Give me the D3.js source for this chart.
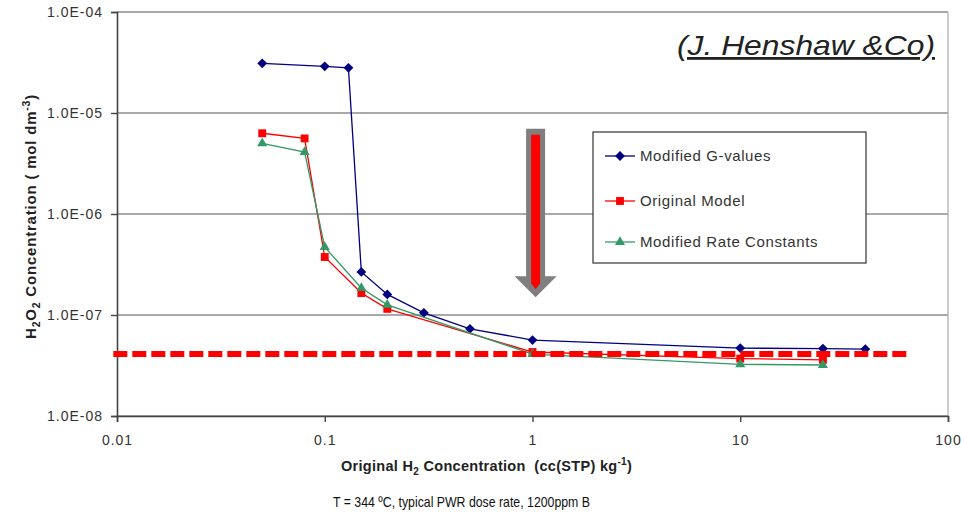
<!DOCTYPE html>
<html>
<head>
<meta charset="utf-8">
<script src="https://cdn.jsdelivr.net/npm/d3@7"></script>
<style>
  body { margin: 0; background: #fff; }
  text { font-family: Arial, "Liberation Sans", sans-serif; }
</style>
</head>
<body>
<div id="container"></div>
<script>
const width = 962, height = 524;

// x values (cc(STP)/kg) and H2O2 concentrations (mol/dm3)
const gValuesX = [0.05, 0.1, 0.13, 0.15, 0.2, 0.3, 0.5, 1, 10, 25, 40];
const gValuesY = [3.1e-5, 2.9e-5, 2.8e-5, 2.67e-7, 1.6e-7, 1.05e-7, 7.3e-8, 5.65e-8, 4.7e-8, 4.65e-8, 4.6e-8];
const originalX = [0.05, 0.08, 0.1, 0.15, 0.2, 1, 10, 25];
const originalY = [6.3e-6, 5.6e-6, 3.75e-7, 1.65e-7, 1.15e-7, 4.3e-8, 3.7e-8, 3.6e-8];
const rateX = [0.05, 0.08, 0.1, 0.15, 0.2, 1, 10, 25];
const rateY = [5.0e-6, 4.1e-6, 4.7e-7, 1.85e-7, 1.26e-7, 4.1e-8, 3.25e-8, 3.2e-8];

const seriesNames = ["Modified G-values", "Original Model", "Modified Rate Constants"];
const yTicks = [1e-8, 1e-7, 1e-6, 1e-5, 1e-4];
const yTickLabels = ["1.0E-08", "1.0E-07", "1.0E-06", "1.0E-05", "1.0E-04"];
const xTicks = [0.01, 0.1, 1, 10, 100];
const xTickLabels = ["0.01", "0.1", "1", "10", "100"];

// limit line and arrow annotation (data coords)
const limitLine = { y: 4.1e-8, x0: 0.0096, x1: 65 };
const arrowMark = { x: 1.035, yTop: 7e-6, yTip: 1.5e-7 };

// diamond = square turned 45deg (d3's diamond is too narrow)
const diamond = {
    draw(ctx, size) {
        const r = Math.sqrt(size / 2);
        ctx.moveTo(0, -r); ctx.lineTo(r, 0); ctx.lineTo(0, r); ctx.lineTo(-r, 0); ctx.closePath();
    }
};

const series = [
    { name: seriesNames[0], xs: gValuesX, ys: gValuesY, color: "#000080", symbol: diamond, size: 48 },
    { name: seriesNames[1], xs: originalX, ys: originalY, color: "#ff0000", symbol: d3.symbolSquare, size: 62 },
    { name: seriesNames[2], xs: rateX, ys: rateY, color: "#339966", symbol: d3.symbolTriangle, size: 44 }
];

const x = d3.scaleLog().domain([0.01, 100]).range([117, 948]);
const y = d3.scaleLog().domain([1e-8, 1e-4]).range([416, 12]);

const svg = d3.select("#container")
    .append("svg")
    .attr("width", width)
    .attr("height", height);

// gridlines
svg.append("g")
    .selectAll("line")
    .data(yTicks)
    .enter()
    .append("line")
    .attr("x1", x(0.01))
    .attr("x2", x(100))
    .attr("y1", d => y(d))
    .attr("y2", d => y(d))
    .attr("stroke", "#555")
    .attr("stroke-width", 1.2);

// right border
svg.append("line")
    .attr("x1", x(100)).attr("x2", x(100))
    .attr("y1", y(1e-4)).attr("y2", y(1e-8))
    .attr("stroke", "#aaa")
    .attr("stroke-width", 1.2);

// axes
const yAxis = d3.axisLeft(y)
    .tickValues(yTicks)
    .tickFormat((d, i) => yTickLabels[i])
    .tickSize(6)
    .tickPadding(8);
const xAxis = d3.axisBottom(x)
    .tickValues(xTicks)
    .tickFormat((d, i) => xTickLabels[i])
    .tickSize(6)
    .tickPadding(13);

const gy = svg.append("g").attr("transform", `translate(${x(0.01)},0)`).call(yAxis);
const gx = svg.append("g").attr("transform", `translate(0,${y(1e-8)})`).call(xAxis);

[gx, gy].forEach(g => {
    g.select(".domain").attr("stroke", "#444").attr("stroke-width", 1.6);
    g.selectAll(".tick line").attr("stroke", "#444").attr("stroke-width", 1.4);
    g.selectAll(".tick text")
        .attr("fill", "#333")
        .style("font-family", "Arial, 'Liberation Sans', sans-serif")
        .style("font-size", "14px")
        .style("letter-spacing", "1px");
});

// lines + markers
series.forEach(s => {
    const pts = s.xs.map((v, i) => [v, s.ys[i]]);
    const line = d3.line().x(d => x(d[0])).y(d => y(d[1]));
    svg.append("path")
        .attr("d", line(pts))
        .attr("fill", "none")
        .attr("stroke", s.color)
        .attr("stroke-width", 1.3);
    svg.append("g")
        .selectAll("path")
        .data(pts)
        .enter()
        .append("path")
        .attr("d", d3.symbol().type(s.symbol).size(s.size))
        .attr("transform", d => `translate(${x(d[0])},${y(d[1])})`)
        .attr("fill", s.color);
});

// dashed limit line
svg.append("line")
    .attr("x1", x(limitLine.x0))
    .attr("x2", x(limitLine.x1))
    .attr("y1", y(limitLine.y))
    .attr("y2", y(limitLine.y))
    .attr("stroke", "#ff0000")
    .attr("stroke-width", 6)
    .attr("stroke-dasharray", "14,5");

// arrow: grey outline, red core
function drawArrow() {
    const ax = x(arrowMark.x), top = y(arrowMark.yTop), tip = y(arrowMark.yTip);
    const base = tip - 21;
    svg.append("path")
        .attr("d", `M${ax - 9.5},${top} H${ax + 9.5} V${base} H${ax + 21} L${ax},${tip} L${ax - 21},${base} H${ax - 9.5} Z`)
        .attr("fill", "#7f7f7f");
    svg.append("path")
        .attr("d", `M${ax - 4.5},${top + 6} H${ax + 4.5} V${base + 7} L${ax},${tip - 8} L${ax - 4.5},${base + 7} Z`)
        .attr("fill", "#ff0000");
}
drawArrow();

// legend
const legend = svg.append("g").attr("transform", "translate(593,132)");
legend.append("rect")
    .attr("width", 273)
    .attr("height", 131)
    .attr("fill", "#fff")
    .attr("stroke", "#333")
    .attr("stroke-width", 1.2);
const item = legend.selectAll(".item")
    .data(series)
    .enter()
    .append("g")
    .attr("class", "item")
    .attr("transform", (d, i) => `translate(0,${[24, 69, 110][i]})`);
item.append("line")
    .attr("x1", 12).attr("x2", 42)
    .attr("stroke", d => d.color)
    .attr("stroke-width", 1.3);
item.append("path")
    .attr("d", d => d3.symbol().type(d.symbol).size(d.size)())
    .attr("transform", "translate(27,0)")
    .attr("fill", d => d.color);
item.append("text")
    .attr("x", 47)
    .attr("dy", "0.36em")
    .attr("fill", "#333")
    .style("font-size", "15px")
    .style("letter-spacing", "0.6px")
    .text(d => d.name);

// credit
svg.append("text")
    .attr("x", 935)
    .attr("y", 55)
    .attr("text-anchor", "end")
    .attr("fill", "#222")
    .style("font-size", "28px")
    .style("font-style", "italic")
    .style("text-decoration", "underline")
    .attr("textLength", 258)
    .attr("lengthAdjust", "spacingAndGlyphs")
    .text("(J. Henshaw &Co)");

// axis titles
const xTitle = svg.append("text")
    .attr("x", 341)
    .attr("y", 471)
    .attr("fill", "#222")
    .style("font-size", "14.5px")
    .style("font-weight", "bold")
    .style("letter-spacing", "0.3px");
xTitle.append("tspan").text("Original H");
xTitle.append("tspan").attr("dy", 4).style("font-size", "10px").text("2");
xTitle.append("tspan").attr("dy", -4).attr("xml:space", "preserve").text(" Concentration  (cc(STP) kg");
xTitle.append("tspan").attr("dy", -6).style("font-size", "10px").text("-1");
xTitle.append("tspan").attr("dy", 6).text(")");

const yTitle = svg.append("text")
    .attr("transform", "translate(36,339) rotate(-90)")
    .attr("fill", "#222")
    .style("font-size", "15px")
    .style("font-weight", "bold")
    .style("letter-spacing", "0.8px");
yTitle.append("tspan").text("H");
yTitle.append("tspan").attr("dy", 4).style("font-size", "10.5px").text("2");
yTitle.append("tspan").attr("dy", -4).text("O");
yTitle.append("tspan").attr("dy", 4).style("font-size", "10.5px").text("2");
yTitle.append("tspan").attr("dy", -4).text(" Concentration ( mol dm");
yTitle.append("tspan").attr("dy", -6).style("font-size", "10.5px").text("-3");
yTitle.append("tspan").attr("dy", 6).text(")");

// condition note
svg.append("text")
    .attr("x", 333)
    .attr("y", 507)
    .attr("fill", "#111")
    .style("font-size", "14.5px")
    .attr("textLength", 257)
    .attr("lengthAdjust", "spacingAndGlyphs")
    .text("T = 344 ºC, typical PWR dose rate, 1200ppm B");
</script>
</body>
</html>
